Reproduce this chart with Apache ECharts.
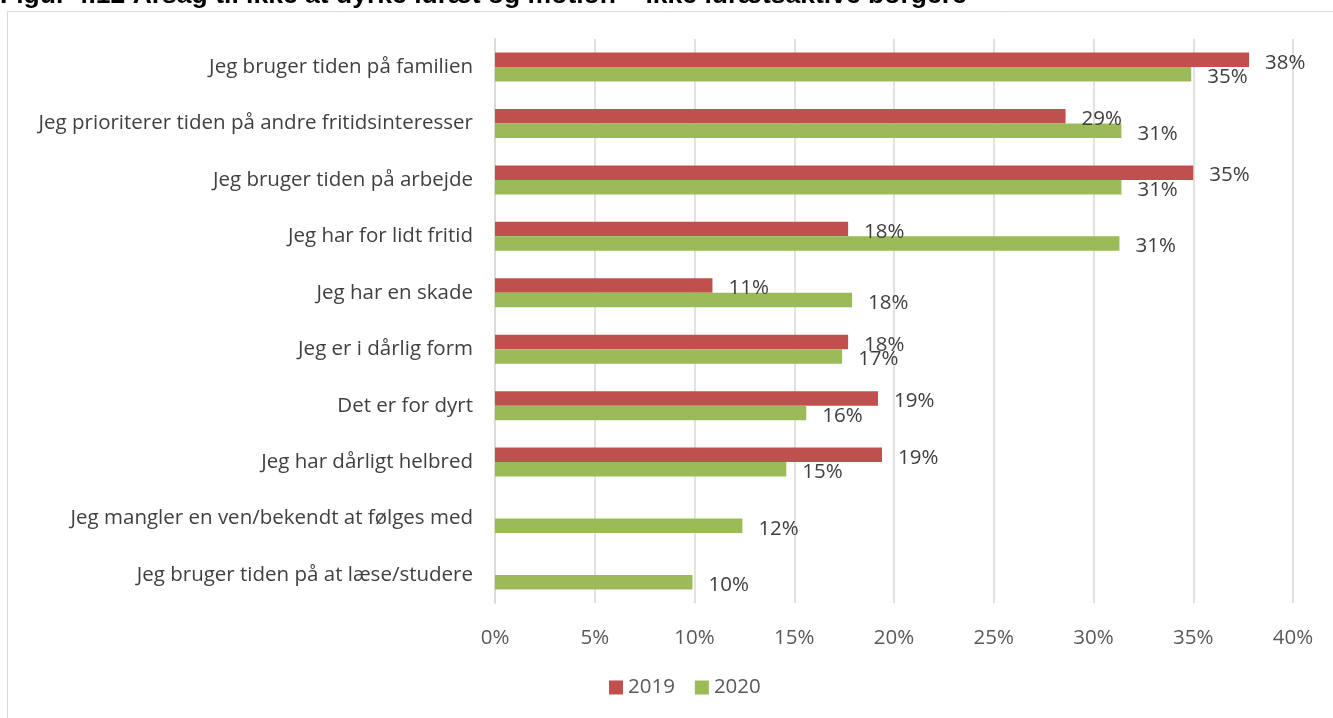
<!DOCTYPE html>
<html><head><meta charset="utf-8">
<style>html,body{margin:0;padding:0;background:#fff}#c{width:1333px;height:718px}</style>
<script src="https://cdn.jsdelivr.net/npm/echarts@6/dist/echarts.min.js"></script>
</head><body><div id="c"></div>
<script>
const titleText = 'Figur 4.12 Årsag til ikke at dyrke idræt og motion – ikke idrætsaktive borgere';
const categories = [
  'Jeg bruger tiden på familien',
  'Jeg prioriterer tiden på andre fritidsinteresser',
  'Jeg bruger tiden på arbejde',
  'Jeg har for lidt fritid',
  'Jeg har en skade',
  'Jeg er i dårlig form',
  'Det er for dyrt',
  'Jeg har dårligt helbred',
  'Jeg mangler en ven/bekendt at følges med',
  'Jeg bruger tiden på at læse/studere'
];
const values2019 = [37.8, 28.6, 35.0, 17.7, 10.9, 17.7, 19.2, 19.4, null, null];
const values2020 = [34.9, 31.4, 31.4, 31.3, 17.9, 17.4, 15.6, 14.6, 12.4, 9.9];
const xTicks = [0, 5, 10, 15, 20, 25, 30, 35, 40];

const chart = echarts.init(document.getElementById('c'));
const FONT = 'Open Sans';
const NUM = 20.5;
const lbl = {
  show: true, position: 'right', distance: 16, offset: [0, 3],
  color: '#404040', fontSize: NUM, fontFamily: FONT,
  formatter: p => p.value == null ? '' : Math.round(p.value) + '%'
};
chart.setOption({
  animation: false,
  graphic: [
    {type: 'rect', shape: {x: 7.5, y: 11.5, width: 1340, height: 720},
     style: {fill: 'none', stroke: '#d9d9d9', lineWidth: 1}},
    {type: 'text', x: 0, y: 9, scaleX: 1.02,
     style: {text: titleText, fontSize: 26, fontWeight: 'bold', fontFamily: 'Liberation Sans', fill: '#000', verticalAlign: 'bottom'}}
  ],
  grid: {left: 495, right: 40, top: 38.8, bottom: 718 - 603.2, containLabel: false},
  legend: {
    bottom: 15, left: 604, itemWidth: 14, itemHeight: 14, itemGap: 20,
    icon: 'rect',
    textStyle: {fontSize: NUM, color: '#595959', fontFamily: FONT},
    data: ['2019', '2020']
  },
  xAxis: {
    type: 'value', min: 0, max: 40, interval: 5,
    axisLabel: {formatter: v => xTicks.includes(v) ? v + '%' : '', fontSize: NUM, color: '#595959', fontFamily: FONT, margin: 24},
    splitLine: {lineStyle: {color: '#d9d9d9', width: 1.5}},
    axisLine: {show: false}, axisTick: {show: false}
  },
  yAxis: {
    type: 'category', inverse: true, data: categories,
    axisLabel: {fontSize: NUM, color: '#404040', fontFamily: FONT, margin: 22},
    axisLine: {show: true, lineStyle: {color: '#d9d9d9', width: 1.5}},
    axisTick: {show: false}
  },
  series: [
    {name: '2019', type: 'bar', data: values2019, barWidth: 14.5, barGap: '0%',
     itemStyle: {color: '#C0504D'}, label: lbl},
    {name: '2020', type: 'bar', data: values2020, barWidth: 14.5, barGap: '0%',
     itemStyle: {color: '#9BBB59'}, label: lbl}
  ]
});
</script></body></html>
